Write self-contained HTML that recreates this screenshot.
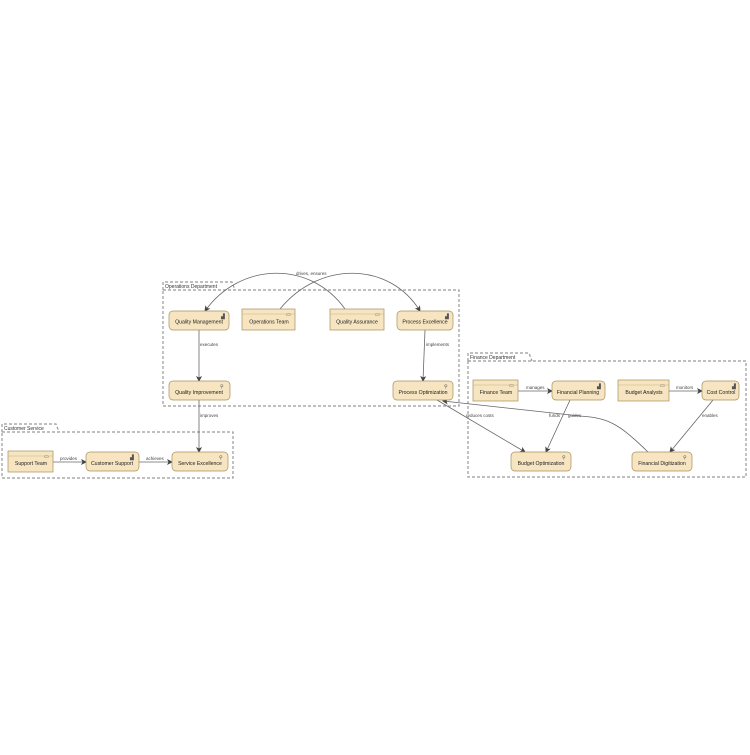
<!DOCTYPE html>
<html><head><style>
html,body{margin:0;padding:0;background:#fff;}
svg text{font-family:"Liberation Sans",sans-serif;}
</style></head><body>
<svg width="750" height="750" viewBox="0 0 750 750" xmlns="http://www.w3.org/2000/svg">
<defs>
<marker id="a" markerWidth="6" markerHeight="6" refX="5" refY="3" orient="auto" markerUnits="userSpaceOnUse"><path d="M0,0 L6,3 L0,6 L1.5,3 z" fill="#444"/></marker>
</defs>
<g fill="none" stroke="#999" stroke-width="1.2" stroke-dasharray="3,2">
<path d="M163,290 V282 H232 L235,290"/><rect x="163" y="290" width="296" height="116"/>
<path d="M2,432 V424 H56 L59,432"/><rect x="2" y="432" width="231" height="46"/>
<path d="M468,361 V353 H529 L532,361"/><rect x="468" y="361" width="278" height="116"/>
</g>
<g font-size="5" fill="#333">
<text x="165" y="288">Operations Department</text>
<text x="4" y="430">Customer Service</text>
<text x="470" y="359">Finance Department</text>
</g>
<g stroke="#666" stroke-width="0.8" fill="none" marker-end="url(#a)">
<path d="M345,309 C310,260 240,262 205,311"/>
<path d="M280,309 C320,260 390,262 420,311"/>
<path d="M199,330 V381"/>
<path d="M425,330 L423,381"/>
<path d="M199,400 V452"/>
<path d="M53,462 H86"/>
<path d="M139,462 H172"/>
<path d="M437,400 L525,452"/>
<path d="M648,452 C620,425 610,418 580,416 L443,401"/>
<path d="M570,400 L546,452"/>
<path d="M518,391 H552"/>
<path d="M669,391 H702"/>
<path d="M713,400 L670,452"/>
</g>
<g font-size="4.5" fill="#444">
<text x="296" y="275">drives, ensures</text>
<text x="200" y="346">executes</text>
<text x="426" y="346">implements</text>
<text x="200" y="417">improves</text>
<text x="60" y="460">provides</text>
<text x="146" y="460">achieves</text>
<text x="466" y="417">reduces costs</text>
<text x="549" y="417">funds</text>
<text x="568" y="417">guides</text>
<text x="526" y="389">manages</text>
<text x="676" y="389">monitors</text>
<text x="702" y="417">enables</text>
</g>
<g stroke="#a89060" stroke-width="0.7" fill="#f6e5c0">
<rect x="169" y="311" width="60" height="19" rx="4"/>
<rect x="242" y="309" width="53" height="21"/>
<rect x="330" y="309" width="54" height="21"/>
<rect x="397" y="311" width="56" height="19" rx="4"/>
<rect x="169" y="381" width="61" height="19" rx="4"/>
<rect x="393" y="381" width="60" height="19" rx="4"/>
<rect x="8" y="451" width="45" height="21"/>
<rect x="86" y="452" width="53" height="19" rx="4"/>
<rect x="172" y="452" width="56" height="19" rx="4"/>
<rect x="473" y="380" width="45" height="21"/>
<rect x="552" y="381" width="53" height="19" rx="4"/>
<rect x="618" y="380" width="51" height="21"/>
<rect x="702" y="381" width="37" height="19" rx="4"/>
<rect x="511" y="452" width="60" height="19" rx="4"/>
<rect x="632" y="452" width="60" height="19" rx="4"/>
</g>
<g stroke="#c8b080" stroke-width="0.5">
<path d="M242,314 H295 M330,314 H384 M8,456 H53 M473,385 H518 M618,385 H669"/>
</g>
<g font-size="5.2" fill="#222" text-anchor="middle">
<text x="199" y="323.5">Quality Management</text>
<text x="269" y="323.5">Operations Team</text>
<text x="357" y="323.5">Quality Assurance</text>
<text x="425" y="323.5">Process Excellence</text>
<text x="199" y="394">Quality Improvement</text>
<text x="423" y="394">Process Optimization</text>
<text x="31" y="465">Support Team</text>
<text x="112" y="465">Customer Support</text>
<text x="200" y="465">Service Excellence</text>
<text x="496" y="394">Finance Team</text>
<text x="578" y="394">Financial Planning</text>
<text x="644" y="394">Budget Analysts</text>
<text x="721" y="394">Cost Control</text>
<text x="541" y="465">Budget Optimization</text>
<text x="662" y="465">Financial Digitization</text>
</g>
<g font-size="5" fill="#555">
<text x="221" y="318">▟</text><text x="445" y="318">▟</text><text x="130" y="459">▟</text><text x="597" y="388">▟</text><text x="732" y="388">▟</text>
<text x="220" y="388">⚲</text><text x="444" y="388">⚲</text><text x="219" y="459">⚲</text><text x="562" y="459">⚲</text><text x="683" y="459">⚲</text>
<text x="286" y="316">▭</text><text x="375" y="316">▭</text><text x="44" y="458">▭</text><text x="509" y="387">▭</text><text x="660" y="387">▭</text>
</g>
</svg>
</body></html>
